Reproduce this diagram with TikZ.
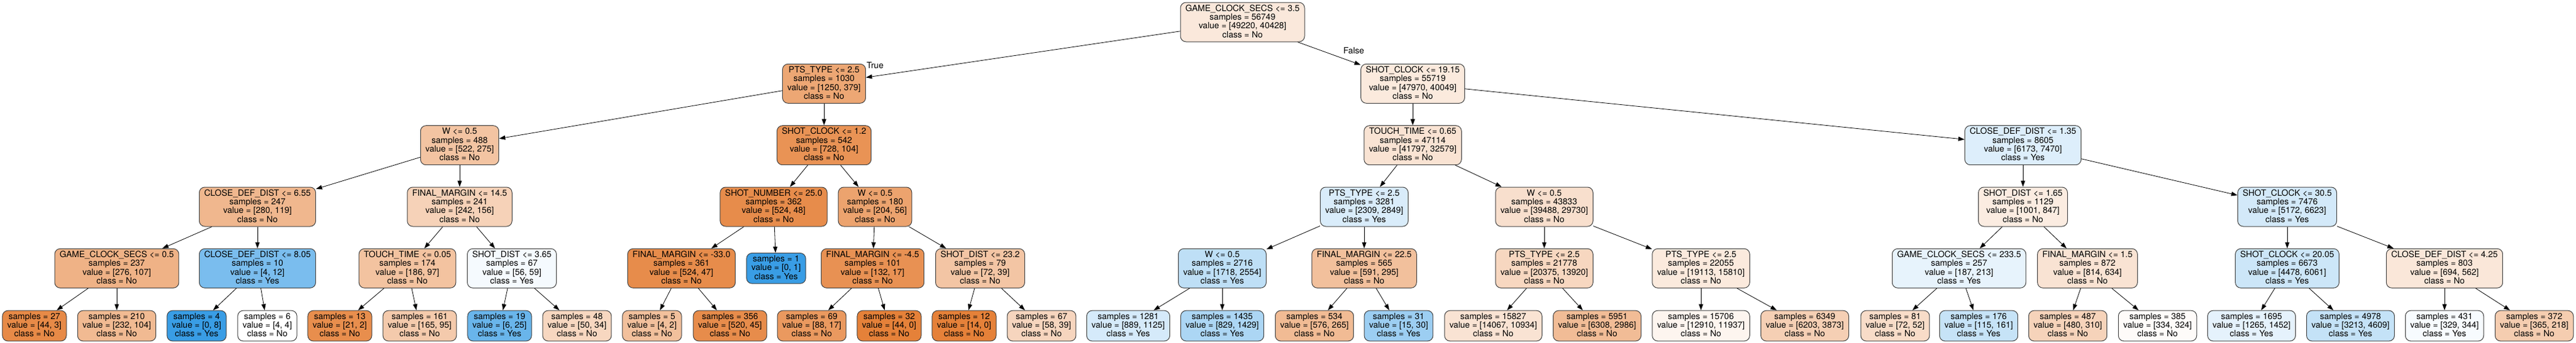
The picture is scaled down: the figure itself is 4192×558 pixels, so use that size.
\documentclass[tikz,border=0pt]{standalone}
\usepackage{fontspec}
\setmainfont{TeX Gyre Heros}
\usetikzlibrary{arrows.meta}
\definecolor{cno}{RGB}{229,129,57}
\definecolor{cyes}{RGB}{57,157,229}
\newcommand\stT{\rule{0pt}{10.5pt}}
\newcommand\stB{\rule[-3.2pt]{0pt}{3.2pt}}
\newcommand\splitT[4]{\stT #1\\samples = #2\\value = [#3]\\class = #4\stB}
\newcommand\leafT[3]{\stT samples = #1\\value = [#2]\\class = #3\stB}
\begin{document}
\begin{tikzpicture}[x=1pt,y=-1pt,
  tn/.style={draw=black!75, line width=1pt, rounded corners=9pt, align=center,
    inner xsep=8pt, inner ysep=3.7pt, font=\fontsize{14}{14.3}\selectfont},
  ed/.style={-{Triangle[length=10pt,width=7pt]}, line width=0.8pt, black},
  lbl/.style={font=\fontsize{14}{14.3}\selectfont, inner sep=0pt}]
\fill[white] (0,0) rectangle (4192,558);
\useasboundingbox (0,0) rectangle (4192,558);
% rows
\def\ra{36}\def\rb{136.3}\def\rc{236.7}\def\rd{337}\def\re{437.3}\def\rf{531}
% row 0
\node[tn, fill=cno!18!white] (n) at (2022,\ra) {\splitT{GAME\_CLOCK\_SECS <= 3.5}{56749}{49220, 40428}{No}};
% row 1
\node[tn, fill=cno!70!white] (a) at (1341,\rb) {\splitT{PTS\_TYPE <= 2.5}{1030}{1250, 379}{No}};
\node[tn, fill=cno!17!white] (b) at (2299,\rb) {\splitT{SHOT\_CLOCK <= 19.15}{55719}{47970, 40049}{No}};
% row 2
\node[tn, fill=cno!47!white] (aa) at (748,\rc) {\splitT{W <= 0.5}{488}{522, 275}{No}};
\node[tn, fill=cno!86!white] (ab) at (1341,\rc) {\splitT{SHOT\_CLOCK <= 1.2}{542}{728, 104}{No}};
\node[tn, fill=cno!22!white] (ba) at (2299,\rc) {\splitT{TOUCH\_TIME <= 0.65}{47114}{41797, 32579}{No}};
\node[tn, fill=cyes!17!white] (bb) at (3292,\rc) {\splitT{CLOSE\_DEF\_DIST <= 1.35}{8605}{6173, 7470}{Yes}};
% row 3
\node[tn, fill=cno!57!white] (aaa) at (419,\rd) {\splitT{CLOSE\_DEF\_DIST <= 6.55}{247}{280, 119}{No}};
\node[tn, fill=cno!36!white] (aab) at (748,\rd) {\splitT{FINAL\_MARGIN <= 14.5}{241}{242, 156}{No}};
\node[tn, fill=cno!91!white] (aba) at (1259,\rd) {\splitT{SHOT\_NUMBER <= 25.0}{362}{524, 48}{No}};
\node[tn, fill=cno!73!white] (abb) at (1424,\rd) {\splitT{W <= 0.5}{180}{204, 56}{No}};
\node[tn, fill=cyes!19!white] (baa) at (2220,\rd) {\splitT{PTS\_TYPE <= 2.5}{3281}{2309, 2849}{Yes}};
\node[tn, fill=cno!25!white] (bab) at (2513,\rd) {\splitT{W <= 0.5}{43833}{39488, 29730}{No}};
\node[tn, fill=cno!15!white] (bba) at (3292,\rd) {\splitT{SHOT\_DIST <= 1.65}{1129}{1001, 847}{No}};
\node[tn, fill=cyes!22!white] (bbb) at (3722,\rd) {\splitT{SHOT\_CLOCK <= 30.5}{7476}{5172, 6623}{Yes}};
% row 4
\node[tn, fill=cno!61!white] (aaaa) at (190,\re) {\splitT{GAME\_CLOCK\_SECS <= 0.5}{237}{276, 107}{No}};
\node[tn, fill=cyes!67!white] (aaab) at (419,\re) {\splitT{CLOSE\_DEF\_DIST <= 8.05}{10}{4, 12}{Yes}};
\node[tn, fill=cno!48!white] (aaba) at (663,\re) {\splitT{TOUCH\_TIME <= 0.05}{174}{186, 97}{No}};
\node[tn, fill=cyes!5!white] (aabb) at (833,\re) {\splitT{SHOT\_DIST <= 3.65}{67}{56, 59}{Yes}};
\node[tn, fill=cno!91!white] (abaa) at (1109,\re) {\splitT{FINAL\_MARGIN <= -33.0}{361}{524, 47}{No}};
\node[tn, fill=cyes] (abab) at (1263,\re) {\leafT{1}{0, 1}{Yes}};
\node[tn, fill=cno!87!white] (abba) at (1420,\re) {\splitT{FINAL\_MARGIN <= -4.5}{101}{132, 17}{No}};
\node[tn, fill=cno!46!white] (abbb) at (1595,\re) {\splitT{SHOT\_DIST <= 23.2}{79}{72, 39}{No}};
\node[tn, fill=cyes!33!white] (baaa) at (1989,\re) {\splitT{W <= 0.5}{2716}{1718, 2554}{Yes}};
\node[tn, fill=cno!50!white] (baab) at (2220,\re) {\splitT{FINAL\_MARGIN <= 22.5}{565}{591, 295}{No}};
\node[tn, fill=cno!32!white] (baba) at (2513,\re) {\splitT{PTS\_TYPE <= 2.5}{21778}{20375, 13920}{No}};
\node[tn, fill=cno!17!white] (babb) at (2768,\re) {\splitT{PTS\_TYPE <= 2.5}{22055}{19113, 15810}{No}};
\node[tn, fill=cyes!12!white] (bbaa) at (3188,\re) {\splitT{GAME\_CLOCK\_SECS <= 233.5}{257}{187, 213}{Yes}};
\node[tn, fill=cno!22!white] (bbab) at (3397,\re) {\splitT{FINAL\_MARGIN <= 1.5}{872}{814, 634}{No}};
\node[tn, fill=cyes!26!white] (bbba) at (3722,\re) {\splitT{SHOT\_CLOCK <= 20.05}{6673}{4478, 6061}{Yes}};
\node[tn, fill=cno!19!white] (bbbb) at (3978,\re) {\splitT{CLOSE\_DEF\_DIST <= 4.25}{803}{694, 562}{No}};
% row 5 leaves
\node[tn, fill=cno!93!white] (l1) at (56,\rf) {\leafT{27}{44, 3}{No}};
\node[tn, fill=cno!55!white] (l2) at (190,\rf) {\leafT{210}{232, 104}{No}};
\node[tn, fill=cyes] (l3) at (320,\rf) {\leafT{4}{0, 8}{Yes}};
\node[tn, fill=white] (l4) at (435,\rf) {\leafT{6}{4, 4}{No}};
\node[tn, fill=cno!90!white] (l5) at (553,\rf) {\leafT{13}{21, 2}{No}};
\node[tn, fill=cno!42!white] (l6) at (683,\rf) {\leafT{161}{165, 95}{No}};
\node[tn, fill=cyes!76!white] (l7) at (813,\rf) {\leafT{19}{6, 25}{Yes}};
\node[tn, fill=cno!32!white] (l8) at (939,\rf) {\leafT{48}{50, 34}{No}};
\node[tn, fill=cno!50!white] (l9) at (1061,\rf) {\leafT{5}{4, 2}{No}};
\node[tn, fill=cno!91!white] (l10) at (1188,\rf) {\leafT{356}{520, 45}{No}};
\node[tn, fill=cno!81!white] (l11) at (1321,\rf) {\leafT{69}{88, 17}{No}};
\node[tn, fill=cno] (l12) at (1447,\rf) {\leafT{32}{44, 0}{No}};
\node[tn, fill=cno] (l13) at (1569,\rf) {\leafT{12}{14, 0}{No}};
\node[tn, fill=cno!33!white] (l14) at (1695,\rf) {\leafT{67}{58, 39}{No}};
\node[tn, fill=cyes!21!white] (l15) at (1836,\rf) {\leafT{1281}{889, 1125}{Yes}};
\node[tn, fill=cyes!42!white] (l16) at (1989,\rf) {\leafT{1435}{829, 1429}{Yes}};
\node[tn, fill=cno!54!white] (l17) at (2139,\rf) {\leafT{534}{576, 265}{No}};
\node[tn, fill=cyes!50!white] (l18) at (2276,\rf) {\leafT{31}{15, 30}{Yes}};
\node[tn, fill=cno!22!white] (l19) at (2430,\rf) {\leafT{15827}{14067, 10934}{No}};
\node[tn, fill=cno!53!white] (l20) at (2599,\rf) {\leafT{5951}{6308, 2986}{No}};
\node[tn, fill=cno!8!white] (l21) at (2768,\rf) {\leafT{15706}{12910, 11937}{No}};
\node[tn, fill=cno!38!white] (l22) at (2937,\rf) {\leafT{6349}{6203, 3873}{No}};
\node[tn, fill=cno!28!white] (l23) at (3084,\rf) {\leafT{81}{72, 52}{No}};
\node[tn, fill=cyes!29!white] (l24) at (3220,\rf) {\leafT{176}{115, 161}{Yes}};
\node[tn, fill=cno!35!white] (l25) at (3365,\rf) {\leafT{487}{480, 310}{No}};
\node[tn, fill=cno!3!white] (l26) at (3511,\rf) {\leafT{385}{334, 324}{No}};
\node[tn, fill=cyes!13!white] (l27) at (3664,\rf) {\leafT{1695}{1265, 1452}{Yes}};
\node[tn, fill=cyes!30!white] (l28) at (3825,\rf) {\leafT{4978}{3213, 4609}{Yes}};
\node[tn, fill=cyes!4!white] (l29) at (3978,\rf) {\leafT{431}{329, 344}{Yes}};
\node[tn, fill=cno!40!white] (l30) at (4124,\rf) {\leafT{372}{365, 218}{No}};
% edge labels
\node[lbl] (lblT) at (1424,106) {True};
\node[lbl] (lblF) at (2203,82) {False};
% edges
\draw[ed] (n) -- (a);
\draw[ed] (n) -- (b);
\draw[ed] (a) -- (aa);
\draw[ed] (a) -- (ab);
\draw[ed] (b) -- (ba);
\draw[ed] (b) -- (bb);
\draw[ed] (aa) -- (aaa);
\draw[ed] (aa) -- (aab);
\draw[ed] (ab) -- (aba);
\draw[ed] (ab) -- (abb);
\draw[ed] (ba) -- (baa);
\draw[ed] (ba) -- (bab);
\draw[ed] (bb) -- (bba);
\draw[ed] (bb) -- (bbb);
\draw[ed] (aaa) -- (aaaa);
\draw[ed] (aaa) -- (aaab);
\draw[ed] (aab) -- (aaba);
\draw[ed] (aab) -- (aabb);
\draw[ed] (aba) -- (abaa);
\draw[ed] (aba) -- (abab);
\draw[ed] (abb) -- (abba);
\draw[ed] (abb) -- (abbb);
\draw[ed] (baa) -- (baaa);
\draw[ed] (baa) -- (baab);
\draw[ed] (bab) -- (baba);
\draw[ed] (bab) -- (babb);
\draw[ed] (bba) -- (bbaa);
\draw[ed] (bba) -- (bbab);
\draw[ed] (bbb) -- (bbba);
\draw[ed] (bbb) -- (bbbb);
\draw[ed] (aaaa) -- (l1);
\draw[ed] (aaaa) -- (l2);
\draw[ed] (aaab) -- (l3);
\draw[ed] (aaab) -- (l4);
\draw[ed] (aaba) -- (l5);
\draw[ed] (aaba) -- (l6);
\draw[ed] (aabb) -- (l7);
\draw[ed] (aabb) -- (l8);
\draw[ed] (abaa) -- (l9);
\draw[ed] (abaa) -- (l10);
\draw[ed] (abba) -- (l11);
\draw[ed] (abba) -- (l12);
\draw[ed] (abbb) -- (l13);
\draw[ed] (abbb) -- (l14);
\draw[ed] (baaa) -- (l15);
\draw[ed] (baaa) -- (l16);
\draw[ed] (baab) -- (l17);
\draw[ed] (baab) -- (l18);
\draw[ed] (baba) -- (l19);
\draw[ed] (baba) -- (l20);
\draw[ed] (babb) -- (l21);
\draw[ed] (babb) -- (l22);
\draw[ed] (bbaa) -- (l23);
\draw[ed] (bbaa) -- (l24);
\draw[ed] (bbab) -- (l25);
\draw[ed] (bbab) -- (l26);
\draw[ed] (bbba) -- (l27);
\draw[ed] (bbba) -- (l28);
\draw[ed] (bbbb) -- (l29);
\draw[ed] (bbbb) -- (l30);
\end{tikzpicture}
\end{document}
